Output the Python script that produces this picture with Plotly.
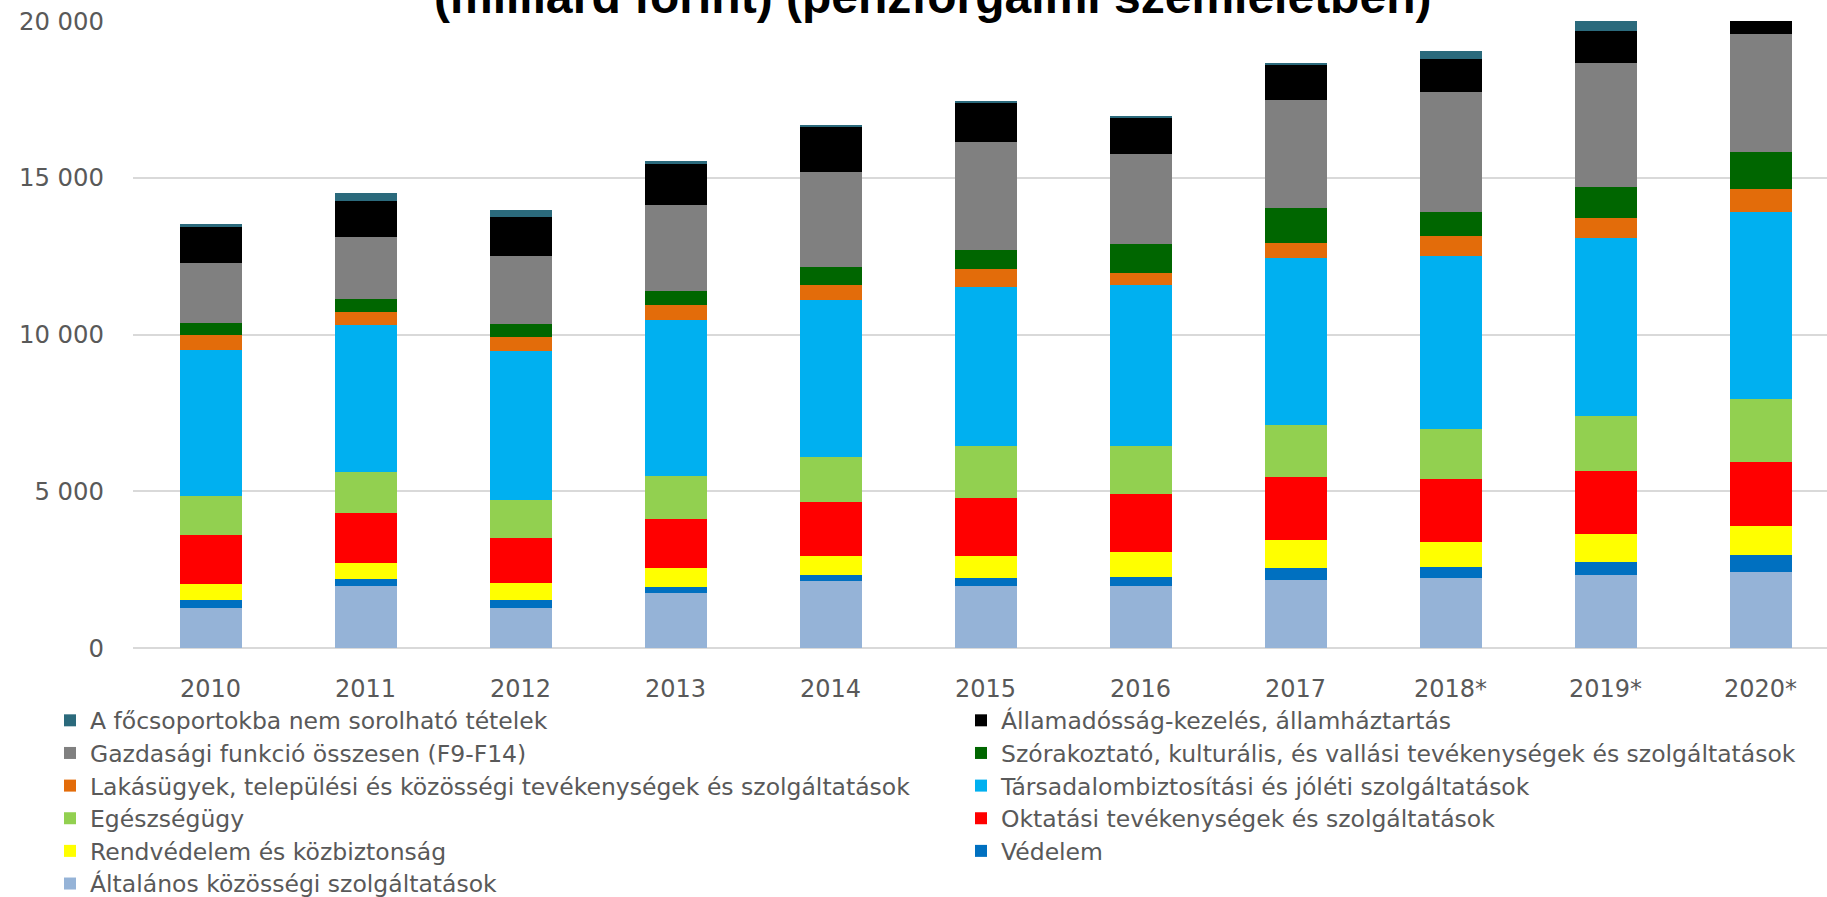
import plotly.graph_objects as go

# ---- data (milliárd forint), stacked from bottom to top ----
years = ['2010', '2011', '2012', '2013', '2014', '2015', '2016', '2017', '2018*', '2019*', '2020*']

altalanos = [1284, 1983, 1284, 1740, 2125, 1983, 1969, 2168, 2240, 2325, 2411]
vedelem = [242, 214, 242, 214, 214, 242, 299, 385, 328, 428, 542]
rendvedelem = [514, 528, 542, 585, 600, 699, 799, 899, 799, 870, 927]
oktatasi = [1569, 1583, 1441, 1584, 1726, 1855, 1840, 2011, 2011, 2026, 2068]
egeszsegugy = [1227, 1298, 1227, 1355, 1412, 1655, 1527, 1641, 1598, 1740, 1983]
tarsadalom = [4679, 4708, 4750, 4978, 5035, 5092, 5135, 5335, 5520, 5678, 5992]
lakasugyek = [470, 399, 428, 471, 471, 556, 385, 485, 642, 642, 727]
szorakoztato = [385, 428, 414, 471, 556, 628, 942, 1113, 785, 984, 1184]
gazdasagi = [1926, 1983, 2182, 2724, 3053, 3438, 2853, 3452, 3823, 3966, 3737]
allamadossag = [1156, 1127, 1227, 1341, 1455, 1255, 1169, 1127, 1041, 1013, 1050]
focsoport = [57, 271, 243, 57, 29, 43, 29, 42, 257, 340, 300]

series_names = [
    'Általános közösségi szolgáltatások',
    'Védelem',
    'Rendvédelem és közbiztonság',
    'Oktatási tevékenységek és szolgáltatások',
    'Egészségügy',
    'Társadalombiztosítási és jóléti szolgáltatások',
    'Lakásügyek, települési és közösségi tevékenységek és szolgáltatások',
    'Szórakoztató, kulturális, és vallási tevékenységek és szolgáltatások',
    'Gazdasági funkció összesen (F9-F14)',
    'Államadósság-kezelés, államháztartás',
    'A főcsoportokba nem sorolható tételek',
]
series_values = [altalanos, vedelem, rendvedelem, oktatasi, egeszsegugy, tarsadalom,
                 lakasugyek, szorakoztato, gazdasagi, allamadossag, focsoport]
series_colors = ['#95b3d7', '#0070c0', '#ffff00', '#ff0000', '#92d050', '#00b0f0',
                 '#e36c0a', '#006600', '#808080', '#000000', '#2b6a7c']

y_tickvals = [0, 5000, 10000, 15000, 20000]
y_ticktext = ['0', '5 000', '10 000', '15 000', '20 000']

title_text = '(milliárd forint) (pénzforgalmi szemléletben)'

# ---- figure ----
W, H = 1827, 897
L, R, T, B = 133, 0, 21, 249

fig = go.Figure()
for name, vals, col in zip(series_names, series_values, series_colors):
    fig.add_trace(go.Bar(
        x=years, y=vals,
        name='<span style="font-size:23.5px">' + name + '</span>',
        marker=dict(color=col, line=dict(width=0)),
    ))

plot_w = W - L - R
cat_px = 155.0
fig.update_layout(
    width=W, height=H,
    margin=dict(l=L, r=R, t=T, b=B, autoexpand=False),
    barmode='stack',
    bargap=0.6,
    plot_bgcolor='white',
    paper_bgcolor='white',
    showlegend=True,
    legend=dict(
        orientation='h',
        traceorder='reversed',
        entrywidth=866, entrywidthmode='pixels',
        x=(50 - L) / plot_w, xanchor='left',
        y=-(699 - (H - B)) / (H - B - T), yanchor='top',
        font=dict(family='DejaVu Sans', size=22.8, color='#595959'),
        bgcolor='rgba(0,0,0,0)',
        borderwidth=0,
    ),
    xaxis=dict(
        type='category',
        range=[-0.5, -0.5 + plot_w / cat_px],
        showgrid=False, zeroline=False, showline=False,
        ticks='',
        ticklabelstandoff=24,
        tickfont=dict(family='DejaVu Sans', size=24, color='#595959'),
    ),
    yaxis=dict(
        range=[0, 20000],
        tickvals=y_tickvals, ticktext=y_ticktext,
        showgrid=True, gridcolor='#d9d9d9', gridwidth=2,
        zeroline=True, zerolinecolor='#d9d9d9', zerolinewidth=2,
        showline=False, ticks='',
        ticklabelstandoff=28,
        tickfont=dict(family='DejaVu Sans', size=24.3, color='#595959'),
    ),
    annotations=[dict(
        text='<b>' + title_text + '</b>',
        xref='paper', yref='paper',
        x=(932 - L) / plot_w, y=((H - B) + 3.6) / (H - B - T),
        xanchor='center', yanchor='middle',
        showarrow=False,
        font=dict(family='Liberation Sans', size=48, color='#000000'),
    )],
)

fig.write_html(
    'out.html',
    config={'displayModeBar': False},
    post_script="document.body.style.margin='0';document.body.style.overflow='hidden';",
)
